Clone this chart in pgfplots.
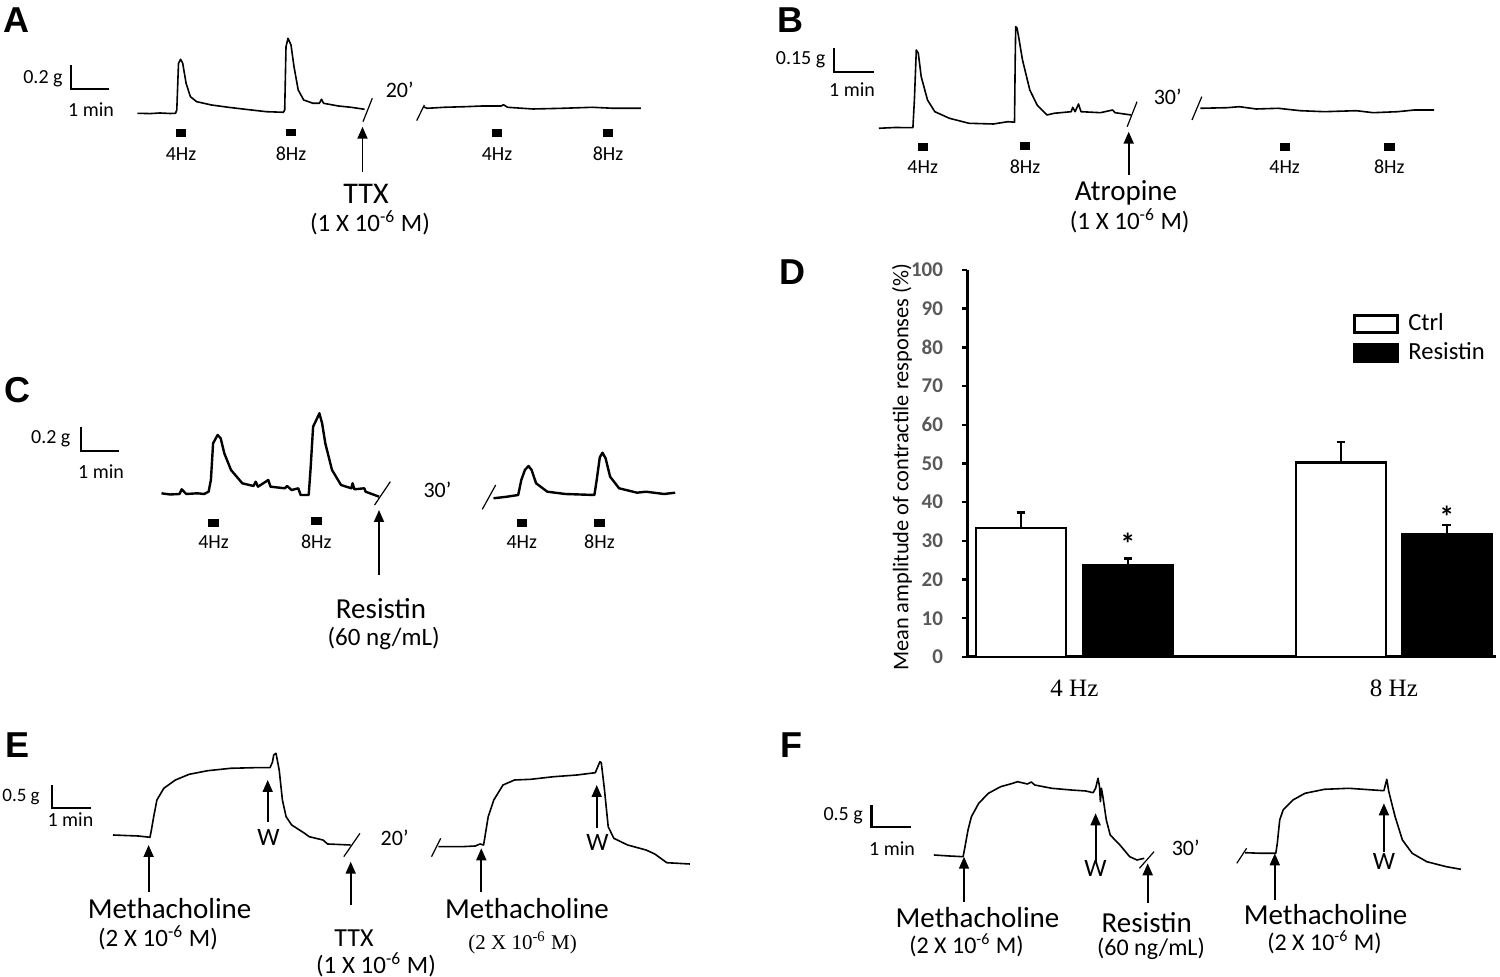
\documentclass[border=0pt]{standalone}
\usepackage{fontspec}
\setmainfont{Carlito}
\newfontfamily\arialf{Liberation Sans}
\newfontfamily\timesf{Liberation Serif}
\usepackage{pgfplots}
\pgfplotsset{compat=1.18}
\usetikzlibrary{arrows.meta}
\definecolor{tickgray}{RGB}{89,89,89}
\newcommand{\fs}[1]{\fontsize{#1}{#1}\selectfont}
\newcommand{\fsS}{\fs{10}}
\newcommand{\fsL}{\fs{14.5}}
\newcommand{\fsM}{\fs{12.5}}
\newcommand{\fsC}{\fs{12}}
\newcommand{\conc}[1]{(#1 X 10\textsuperscript{-6} M)}
\begin{document}
\begin{tikzpicture}
\useasboundingbox (0,0) rectangle (750pt,488.5pt);
\begin{scope}[every node/.append style={inner sep=0.5pt}]
\begin{axis}[at={(0pt,0pt)}, anchor=south west, scale only axis,
  width=750pt, height=488.5pt, xmin=0, xmax=1500, ymin=0, ymax=977,
  y dir=reverse, hide axis, clip=false,
  trace/.style={black, line width=0.8pt, mark=none, line join=round},
  brk/.style={black, line width=0.6pt, mark=none},
  sbar/.style={black, line width=1.1pt, mark=none},
  arr/.style={black, line width=0.9pt, mark=none, -{Triangle[width=5pt,length=6pt]}},
  stim/.style={only marks, mark=square*, mark size=2.1pt, mark options={black, xscale=1.1, yscale=0.8}}]
%% ---------------- Panel A ----------------
\node[font=\arialf\bfseries\fs{18}, anchor=base west] at (axis cs:2,33) {A};
\addplot[sbar] coordinates {(71,65) (71,89.3) (109,89.3)};
\node[font=\fsS, anchor=east] at (axis cs:64,79) {0.2 g};
\node[font=\fsS] at (axis cs:91,110) {1 min};
\addplot[trace] coordinates {(137.5,113.3) (150,113.6) (160,113) (170,113.5) (175.5,113.3) (176.8,110) (178.5,63.3) (180.6,59.3) (182.7,63.3) (186.1,83.3) (190.4,96.7) (196.7,101.7) (211.5,105) (228.4,107.3) (245.3,109.3) (266.5,111.7) (283.4,112.3) (284.7,110) (286,46.7) (288,38.3) (291,45) (294,66.7) (298.2,90) (303.7,100) (313,103.3) (319.4,103.3) (321.5,99.3) (323.6,103.3) (338.4,106) (351.1,107.3) (364.6,109.3)};
\addplot[brk] coordinates {(363,121.7) (372.3,98.3)};
\node[font=\fs{11}] at (axis cs:399.7,90) {20’};
\addplot[brk] coordinates {(416.7,120.7) (424.3,105)};
\addplot[trace] coordinates {(423,106.7) (427.2,108.3) (444.2,107.3) (465.3,106.7) (482.2,106) (501.3,106) (503.4,104.7) (507.6,107.3) (533,109) (562.6,108.3) (592.2,107.3) (613.4,108.3) (640.9,108.3)};
\addplot[stim] coordinates {(181,133) (291,132.3) (497,133) (608,133)};
\node[font=\fsS] at (axis cs:181,154) {4Hz};
\node[font=\fsS] at (axis cs:291,154) {8Hz};
\node[font=\fsS] at (axis cs:497,154) {4Hz};
\node[font=\fsS] at (axis cs:608,154) {8Hz};
\addplot[arr] coordinates {(362.5,171.7) (362.5,126.7)};
\node[font=\fs{15}] at (axis cs:366,193.5) {TTX};
\node[font=\fsM] at (axis cs:370,222.5) {\conc{1}};
%% ---------------- Panel B ----------------
\node[font=\arialf\bfseries\fs{18}, anchor=base west] at (axis cs:776,33) {B};
\addplot[sbar] coordinates {(834,48.3) (834,71.7) (874,71.7)};
\node[font=\fsS, anchor=east] at (axis cs:826.7,60) {0.15 g};
\node[font=\fsS] at (axis cs:852,90) {1 min};
\addplot[trace] coordinates {(878.8,128.3) (895,127.5) (912.9,127.7) (914.4,100) (916.3,50) (918.3,53.3) (921.2,76.7) (927.5,100) (934.8,111.7) (949.4,118.3) (969,123.3) (993.3,124) (1007.9,121.7) (1014.5,122.2) (1015.2,60) (1015.7,26.7) (1017,28) (1018.6,36.7) (1022.5,60) (1029.8,90) (1037.1,105) (1046.9,115) (1054.2,113.3) (1071.2,111.7) (1072.7,107.3) (1075.1,111.7) (1078.5,104) (1081,111.7) (1100.5,112.7) (1112.6,110) (1115,112.7) (1131.1,115)};
\addplot[brk] coordinates {(1127.2,126.7) (1137,101.7)};
\node[font=\fs{11}] at (axis cs:1167.7,96.7) {30’};
\addplot[brk] coordinates {(1192,120) (1201.8,96.7)};
\addplot[trace] coordinates {(1200.3,108.3) (1227.1,107.7) (1239.3,106.7) (1256.3,109) (1278.2,108.3) (1300.1,110.7) (1324.5,111.7) (1356.2,110.7) (1373.2,112.7) (1397.5,111.7) (1414.6,110) (1434.1,110)};
\addplot[stim] coordinates {(922.7,146.7) (1025,145.7) (1284.6,146.7) (1389.3,146.7)};
\node[font=\fsS] at (axis cs:922.7,166.7) {4Hz};
\node[font=\fsS] at (axis cs:1025,166.7) {8Hz};
\node[font=\fsS] at (axis cs:1284.6,166.7) {4Hz};
\node[font=\fsS] at (axis cs:1389.3,166.7) {8Hz};
\addplot[arr] coordinates {(1128.7,175) (1128.7,131.7)};
\node[font=\fsL] at (axis cs:1126,193.3) {Atropine};
\node[font=\fsM] at (axis cs:1129.7,221) {\conc{1}};
%% ---------------- Panel C ----------------
\node[font=\arialf\bfseries\fs{18}, anchor=base west] at (axis cs:3,403) {C};
\addplot[sbar] coordinates {(80.8,426.7) (80.8,451) (118.9,451)};
\node[font=\fsS, anchor=east] at (axis cs:71.8,439) {0.2 g};
\node[font=\fsS] at (axis cs:101,471.7) {1 min};
\addplot[trace, line width=1.2pt] coordinates {(161.5,493.3) (170,494.5) (179.5,494) (181.7,489.3) (186.2,494) (197.4,493.3) (204.1,494) (208.6,491.7) (210.9,480) (213.1,443.3) (217.6,435) (220.7,438.3) (224.3,453.3) (231,470) (242.3,483.3) (253.5,486) (255.7,481.7) (258,486.7) (268.3,480) (270.5,486.7) (284.9,488.3) (287.1,486) (291.6,490) (298.3,488.3) (300.6,495) (308.7,495) (310.5,470) (313.1,426.7) (316.3,420) (319.4,413.3) (322.1,423.3) (325.3,443.3) (332,470) (341,485) (351.3,488.3) (352.6,483.3) (354.4,489.3) (364.3,488.3) (365.6,491.7) (379.1,496.7)};
\addplot[brk] coordinates {(374.6,505) (390.3,481.7)};
\node[font=\fs{11}] at (axis cs:437.4,490) {30’};
\addplot[brk] coordinates {(482.3,509.3) (495.7,485)};
\addplot[trace, line width=1.2pt] coordinates {(493.5,498.3) (507,496.7) (518.2,495) (521.3,480) (524.9,470) (528.5,466) (531.6,470) (536.1,483.3) (547.3,491.7) (565.3,494) (594.4,495) (596.7,480) (599.8,457.3) (602.5,452.7) (605.6,458.3) (610.1,476.7) (619.1,488.3) (637.1,492.7) (646,491.7) (664,494) (675.2,492.7)};
\addplot[stim] coordinates {(213.5,522.7) (316.3,521) (521.8,522.7) (599.4,522.7)};
\node[font=\fsS] at (axis cs:213.5,541.7) {4Hz};
\node[font=\fsS] at (axis cs:316.3,541.7) {8Hz};
\node[font=\fsS] at (axis cs:521.8,541.7) {4Hz};
\node[font=\fsS] at (axis cs:599.4,541.7) {8Hz};
\addplot[arr] coordinates {(379,575) (379,510)};
\node[font=\fsL] at (axis cs:381,608.3) {Resistin};
\node[font=\fsM] at (axis cs:383.6,638.3) {(60 ng/mL)};
%% ---------------- Panel D letter ----------------
\node[font=\arialf\bfseries\fs{18}, anchor=base west] at (axis cs:778,285) {D};
%% ---------------- Panel E ----------------
\node[font=\arialf\bfseries\fs{18}, anchor=base west] at (axis cs:4,758) {E};
\addplot[sbar] coordinates {(52.1,785) (52.1,808.3) (91.4,808.3)};
\node[font=\fs{9.5}, anchor=west] at (axis cs:1,796.7) {0.5 g};
\node[font=\fsS] at (axis cs:70.4,820) {1 min};
\addplot[trace] coordinates {(113,835) (125,835.5) (138.4,836) (150,837.3) (151.4,830) (153.7,816.7) (156.9,800) (163.8,788.3) (175.4,780) (189.2,774.3) (207.7,770.7) (230.7,768.3) (253.8,767.7) (270,767.7) (272.5,762) (273.7,755) (276,753.3) (279.2,770) (282.4,800) (286.1,816.7) (291.7,825) (304.6,833.3) (306.9,835) (309.2,836.7) (323,840) (327.6,844) (350.7,845)};
\addplot[brk] coordinates {(343.8,856.7) (360,833.3)};
\node[font=\fs{11}] at (axis cs:394.6,838.3) {20’};
\addplot[brk] coordinates {(431.5,856.7) (440.7,838.3)};
\addplot[trace] coordinates {(438.4,846.7) (461.5,846.7) (475.3,846) (480,844) (483.6,845) (485.5,833.3) (488.2,816.7) (493.8,800) (503,785) (514.5,780) (530.7,779.3) (553.8,776.7) (576.9,775) (595.3,772.7) (599.9,761.7) (601.3,762.7) (604.5,790) (608.2,826.7) (613.8,838.3) (627.6,845) (646,850) (652,852.7) (655.3,854.3) (658.5,856.7) (666.8,862.7) (689.9,864)};
\addplot[arr] coordinates {(148.6,891.7) (148.6,845)};
\addplot[arr] coordinates {(267.7,821.7) (267.7,780)};
\addplot[arr] coordinates {(350.7,905) (350.7,861.7)};
\addplot[arr] coordinates {(481.3,891.7) (481.3,848.3)};
\addplot[arr] coordinates {(596.7,828.3) (596.7,785)};
\node[font=\fsM] at (axis cs:268.6,837) {W};
\node[font=\fsM] at (axis cs:597.6,842) {W};
\node[font=\fsL] at (axis cs:169.6,909) {Methacholine};
\node[font=\fsM] at (axis cs:158,937.5) {\conc{2}};
\node[font=\fs{13}] at (axis cs:354,938.3) {TTX};
\node[font=\fsM] at (axis cs:376,965) {\conc{1}};
\node[font=\fsL] at (axis cs:527,909) {Methacholine};
\node[font=\timesf\fs{10.5}] at (axis cs:522.6,942.5) {\conc{2}};
%% ---------------- Panel F ----------------
\node[font=\arialf\bfseries\fs{18}, anchor=base west] at (axis cs:779,758) {F};
\addplot[sbar] coordinates {(871.5,805) (871.5,826.7) (910.5,826.7)};
\node[font=\fsS, anchor=east] at (axis cs:864.2,816) {0.5 g};
\node[font=\fsS] at (axis cs:892,848.3) {1 min};
\addplot[trace] coordinates {(933.9,855) (949.4,856) (963.1,856.7) (965,846.7) (968,830) (971.4,816.7) (978.7,803.3) (988.4,793.3) (1000.6,786.7) (1012.8,783.3) (1017.6,781.7) (1027.4,784) (1031.3,782) (1034.7,785) (1051.7,788.3) (1071.2,790) (1085.8,791) (1093.1,792.7) (1095.6,788.3) (1098,778.3) (1099.5,786.7) (1100.4,801.7) (1101.4,788.3) (1102.9,796.7) (1106.3,820) (1110.2,835) (1119.9,845) (1129.7,856.7) (1137,860) (1144.3,858.3)};
\addplot[brk] coordinates {(1139.4,868.3) (1154,851.7)};
\node[font=\fs{11}] at (axis cs:1185.7,848.3) {30’};
\addplot[brk] coordinates {(1236.8,863.3) (1246.6,848.3)};
\addplot[trace] coordinates {(1245.1,852.7) (1261.2,853.3) (1275.8,853.3) (1277.3,843.3) (1279.7,820) (1283.1,810) (1292.9,800) (1305,793.3) (1324.5,789.3) (1348.9,788.3) (1373.2,790) (1383.9,790.7) (1386.8,779.3) (1388.8,791.7) (1395.1,816.7) (1402.4,840) (1412.2,853.3) (1426.8,861.7) (1446.3,866.7) (1460.9,869.3)};
\addplot[arr] coordinates {(964,901.7) (964,856.7)};
\addplot[arr] coordinates {(1095.6,861.7) (1095.6,813.3)};
\addplot[arr] coordinates {(1147.7,903.3) (1147.7,863.3)};
\addplot[arr] coordinates {(1274.8,900) (1274.8,853.3)};
\addplot[arr] coordinates {(1383.9,851.7) (1383.9,803.3)};
\node[font=\fsM] at (axis cs:1095.6,868.3) {W};
\node[font=\fsM] at (axis cs:1383.9,861.7) {W};
\node[font=\fsL] at (axis cs:977.5,918) {Methacholine};
\node[font=\fsC] at (axis cs:966.5,945) {\conc{2}};
\node[font=\fsL] at (axis cs:1146.7,923) {Resistin};
\node[font=\fsC] at (axis cs:1151,948.5) {(60 ng/mL)};
\node[font=\fsL] at (axis cs:1325.6,914.5) {Methacholine};
\node[font=\fsC] at (axis cs:1324.5,942) {\conc{2}};
\end{axis}
\end{scope}
%% ---------------- Panel D bar chart ----------------
\begin{axis}[at={(483.5pt,160pt)}, anchor=south west, scale only axis,
  width=264.5pt, height=193.5pt,
  xmin=967, xmax=1496, ymin=0, ymax=100,
  axis x line*=bottom, axis y line*=left,
  axis line style={line width=1.5pt},
  ytick={0,10,...,100}, tick align=outside, major tick length=2.5pt,
  ytick style={line width=1.2pt, black},
  xtick={1074.4,1393.9}, xticklabels={4 Hz,8 Hz}, x tick style={draw=none},
  xticklabel style={font=\timesf\fs{12.5}, anchor=center, yshift=-13pt},
  /pgf/number format/assume math mode=true,
  yticklabel style={font=\bfseries\fs{10.5}, text=tickgray, xshift=-6pt},
  ylabel={Mean amplitude of contractile responses (\%)},
  every axis y label/.style={at={(axis description cs:-0.1229,0.49)}, rotate=90, anchor=center, font=\fs{11.2}},
  bar width=90, clip=false,
  legend style={draw=none, fill=none, at={(axis cs:1352.6,89.8)}, anchor=north west, font=\fs{12.3}, inner sep=0pt, row sep=0.5pt, cells={anchor=west}},
  legend cell align=left]
\addplot[ybar, bar shift=0pt, fill=white, draw=black, line width=1.3pt,
  legend image code/.code={\draw[fill=white, line width=1.3pt] (0pt,-4.25pt) rectangle (21.5pt,4.25pt); \path[draw=none, fill=none] (0pt,0pt) rectangle (25pt,0pt);},
  error bars/.cd, y dir=plus, y explicit, error bar style={line width=1.3pt}, error mark options={line width=1.3pt, mark size=2.2pt, rotate=90}]
  coordinates {(1020.9,33.3) +- (0,4.0) (1340.9,50.3) +- (0,5.3)};
\addlegendentry{Ctrl}
\addplot[ybar, bar shift=0pt, fill=black, draw=black, line width=1.3pt,
  legend image code/.code={\draw[fill=black, line width=1.3pt] (0pt,-4.25pt) rectangle (21.5pt,4.25pt); \path[draw=none, fill=none] (0pt,0pt) rectangle (25pt,0pt);},
  error bars/.cd, y dir=plus, y explicit, error bar style={line width=1.3pt}, error mark options={line width=1.3pt, mark size=2.2pt, rotate=90}]
  coordinates {(1127.9,23.6) +- (0,1.9) (1446.8,31.6) +- (0,2.5)};
\addlegendentry{Resistin}
\node[font=\bfseries\fs{15}, anchor=base] at (axis cs:1127.9,26.6) {*};
\node[font=\bfseries\fs{15}, anchor=base] at (axis cs:1446.8,33.5) {*};
\end{axis}
\end{tikzpicture}
\end{document}
